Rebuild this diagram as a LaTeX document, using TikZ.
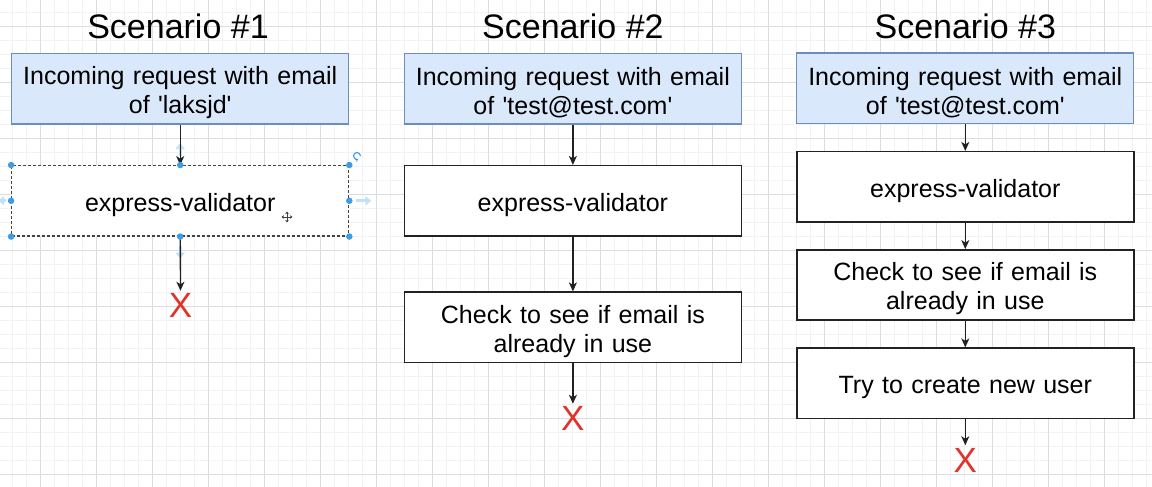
\documentclass[tikz,border=0pt]{standalone}
\usepackage{fontspec}
\setmainfont{Liberation Sans}[Ligatures=TeXOff]
\usetikzlibrary{arrows.meta}
\definecolor{bluefill}{HTML}{DAE8FC}
\definecolor{blueline}{HTML}{6C8EBF}
\definecolor{gridminor}{HTML}{F2F2F2}
\definecolor{gridmajor}{HTML}{DCDCDC}
\definecolor{xred}{HTML}{E2332B}
\definecolor{handle}{HTML}{3E9BE6}
\definecolor{hoverblue}{HTML}{C4E0F6}
\definecolor{boxline}{HTML}{222222}
\tikzset{
  basebox/.style={minimum width=337pt, text width=330pt, align=center, inner sep=0pt,
    font=\fontsize{25}{29}\selectfont, execute at begin node={\rule{0pt}{26pt}}},
  reqbox/.style={basebox, draw=blueline, fill=bluefill, line width=1.2pt, minimum height=70.7pt},
  stepbox/.style={basebox, draw=boxline, fill=white, line width=1.5pt, minimum height=70.3pt},
  selbox/.style={basebox, draw=boxline!85, fill=white, line width=1.2pt,
    dash pattern=on 3pt off 2pt, minimum height=70.3pt},
  titlebox/.style={font=\fontsize{34}{40}\selectfont, anchor=base, inner sep=0pt},
  fail/.style={font=\fontsize{35}{40}\selectfont, text=xred, inner sep=0pt},
  flow/.style={-{Stealth[length=9pt,width=8pt,inset=2.5pt]}, line width=1.3pt, draw=boxline},
  handledot/.style={circle, fill=handle, inner sep=0pt, minimum size=6.5pt},
  hover/.style={-{Triangle[length=6pt,width=9pt]}, line width=3pt, draw=hoverblue},
}
\begin{document}
\begin{tikzpicture}[x=1pt,y=-1pt]
\useasboundingbox (0,0) rectangle (1152,487);
\fill[white] (0,0) rectangle (1152,487);
% grid
\foreach \g in {0,...,82} {
  \draw[gridminor, line width=1pt] ({12.7+14*\g},0) -- ({12.7+14*\g},487);
}
\foreach \g in {0,...,34} {
  \draw[gridminor, line width=1pt] (0,{12.3+14*\g}) -- (1152,{12.3+14*\g});
}
\foreach \g in {0,...,20} {
  \draw[gridmajor, line width=1pt] ({40.7+56*\g},0) -- ({40.7+56*\g},487);
}
\foreach \g in {0,...,8} {
  \draw[gridmajor, line width=1pt] (0,{26.3+56*\g}) -- (1152,{26.3+56*\g});
}

% ---------- Scenario 1 ----------
\node[titlebox] (t1) at (178,38.3) {Scenario \#1};
\node[reqbox] (r1) at (180.2,88.7) {Incoming request with email\\of 'laksjd'};
\node[selbox] (ev1) at (180.2,200.8) {express-validator};
\node[fail] (x1) at (180.5,305.5) {X};

% hover hints and handles of the selected box
\draw[hover] ([yshift=9pt]ev1.north) -- ++(0,-13);
\draw[hover] ([yshift=-9pt]ev1.south) -- ++(0,13);
\draw[hover] ([xshift=7pt]ev1.east) -- ++(15,0);
\draw[hover] ([xshift=-5pt]ev1.west) -- ++(-8,0);

\draw[flow] (r1) -- (ev1);
\draw[flow, shorten >=2.5pt] (ev1) -- (x1);

\foreach \p in {north west, north, north east, west, east, south west, south, south east} {
  \node[handledot] at (ev1.\p) {};
}
\draw[handle, line width=1.1pt, -{Stealth[length=2.5pt,width=3.5pt]}]
  (360.5,156) arc[start angle=0, end angle=290, radius=3.5pt];
\draw[black!75, line width=1pt, {Stealth[length=2.5pt,width=3.5pt]}-{Stealth[length=2.5pt,width=3.5pt]}]
  (281.5,217) -- (292.5,217);
\draw[black!75, line width=1pt, {Stealth[length=2.5pt,width=3.5pt]}-{Stealth[length=2.5pt,width=3.5pt]}]
  (287,211.5) -- (287,222.5);

% ---------- Scenario 2 ----------
\node[titlebox] (t2) at (572.9,38.3) {Scenario \#2};
\node[reqbox] (r2) at (572.9,88.7) {Incoming request with email\\of 'test@test.com'};
\node[stepbox] (ev2) at (572.9,200.8) {express-validator};
\node[stepbox] (ck2) at (572.9,327.3) {Check to see if email is\\already in use};
\node[fail] (x2) at (572.9,418.5) {X};
\draw[flow] (r2) -- (ev2);
\draw[flow] (ev2) -- (ck2);
\draw[flow, shorten >=2.5pt] (ck2) -- (x2);

% ---------- Scenario 3 ----------
\node[titlebox] (t3) at (965.3,38.3) {Scenario \#3};
\node[reqbox] (r3) at (965.3,88.4) {Incoming request with email\\of 'test@test.com'};
\node[stepbox] (ev3) at (965.3,186.8) {express-validator};
\node[stepbox] (ck3) at (965.3,285) {Check to see if email is\\already in use};
\node[stepbox] (tr3) at (965.3,383.3) {Try to create new user};
\node[fail] (x3) at (965.3,460) {X};
\draw[flow] (r3) -- (ev3);
\draw[flow] (ev3) -- (ck3);
\draw[flow] (ck3) -- (tr3);
\draw[flow, shorten >=2.5pt] (tr3) -- (x3);
\end{tikzpicture}
\end{document}
